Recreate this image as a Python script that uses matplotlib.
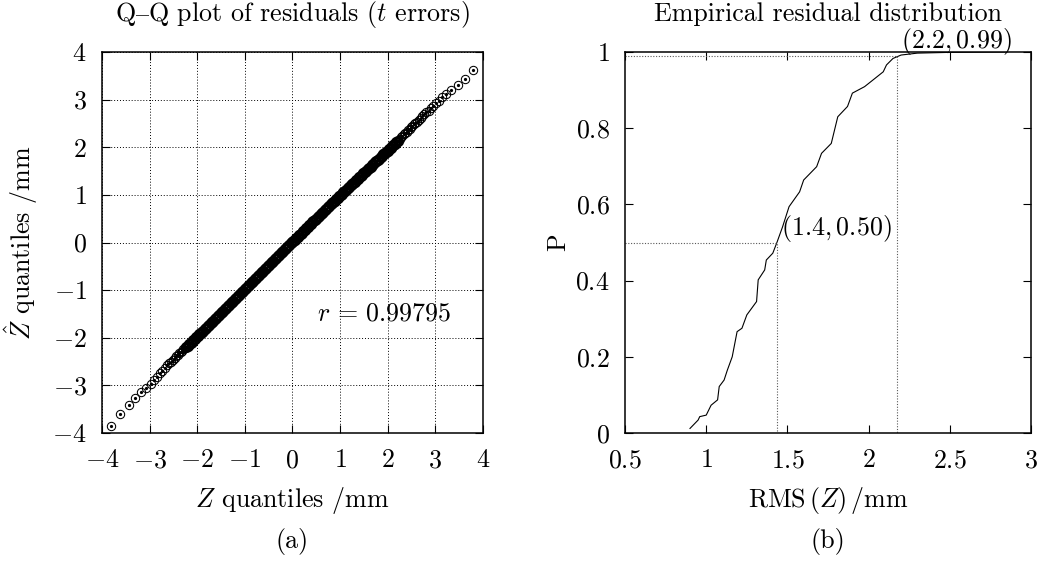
import matplotlib
matplotlib.use("Agg")
import matplotlib.pyplot as plt
from matplotlib.ticker import FuncFormatter

plt.rcParams['font.family'] = ['cmr10', 'DejaVu Serif']
plt.rcParams['mathtext.fontset'] = 'cm'
plt.rcParams['axes.formatter.use_mathtext'] = True
FS = 18.7

# Q-Q plot data: lower tail, dense middle, upper tail
z_low = [-3.81, -3.63, -3.44, -3.30, -3.18, -3.07, -2.98, -2.91, -2.84, -2.78,
         -2.73, -2.68, -2.63, -2.59, -2.55, -2.51, -2.47, -2.44, -2.41, -2.38,
         -2.35, -2.32, -2.29, -2.26]
zhat_low = [-3.85, -3.61, -3.41, -3.27, -3.14, -3.06, -2.97, -2.89, -2.82, -2.75,
            -2.69, -2.63, -2.58, -2.54, -2.50, -2.46, -2.42, -2.39, -2.36, -2.33,
            -2.30, -2.27, -2.24, -2.21]

z_mid = [-2.23, -2.20, -2.17, -2.14, -2.11, -2.08, -2.05, -2.02, -1.99, -1.96,
         -1.93, -1.90, -1.87, -1.84, -1.81, -1.78, -1.75, -1.72, -1.69, -1.66,
         -1.63, -1.60, -1.57, -1.54, -1.51, -1.48, -1.45, -1.42, -1.39, -1.36,
         -1.33, -1.30, -1.27, -1.24, -1.21, -1.18, -1.15, -1.12, -1.09, -1.06,
         -1.03, -1.00, -0.97, -0.94, -0.91, -0.88, -0.85, -0.82, -0.79, -0.76,
         -0.73, -0.70, -0.67, -0.64, -0.61, -0.58, -0.55, -0.52, -0.49, -0.46,
         -0.43, -0.40, -0.37, -0.34, -0.31, -0.28, -0.25, -0.22, -0.19, -0.16,
         -0.13, -0.10, -0.07, -0.04, -0.01, 0.02, 0.05, 0.08, 0.11, 0.14,
         0.17, 0.20, 0.23, 0.26, 0.29, 0.32, 0.35, 0.38, 0.41, 0.44,
         0.47, 0.50, 0.53, 0.56, 0.59, 0.62, 0.65, 0.68, 0.71, 0.74,
         0.77, 0.80, 0.83, 0.86, 0.89, 0.92, 0.95, 0.98, 1.01, 1.04,
         1.07, 1.10, 1.13, 1.16, 1.19, 1.22, 1.25, 1.28, 1.31, 1.34,
         1.37, 1.40, 1.43, 1.46, 1.49, 1.52, 1.55, 1.58, 1.61, 1.64,
         1.67, 1.70, 1.73, 1.76, 1.79, 1.82, 1.85, 1.88, 1.91, 1.94,
         1.97, 2.00, 2.03, 2.06, 2.09, 2.12, 2.15, 2.18, 2.21]
zhat_mid = [-2.20, -2.17, -2.14, -2.11, -2.08, -2.05, -2.02, -1.99, -1.96, -1.93,
            -1.90, -1.87, -1.85, -1.82, -1.79, -1.76, -1.73, -1.70, -1.67, -1.64,
            -1.61, -1.58, -1.55, -1.52, -1.49, -1.46, -1.43, -1.40, -1.37, -1.34,
            -1.31, -1.28, -1.25, -1.22, -1.19, -1.16, -1.13, -1.10, -1.07, -1.04,
            -1.01, -0.98, -0.95, -0.92, -0.89, -0.86, -0.83, -0.80, -0.77, -0.74,
            -0.71, -0.68, -0.65, -0.62, -0.59, -0.56, -0.53, -0.50, -0.47, -0.44,
            -0.41, -0.38, -0.35, -0.32, -0.29, -0.26, -0.23, -0.20, -0.17, -0.14,
            -0.11, -0.08, -0.05, -0.02, 0.01, 0.03, 0.06, 0.09, 0.12, 0.15,
            0.18, 0.21, 0.24, 0.27, 0.30, 0.33, 0.36, 0.39, 0.42, 0.45,
            0.48, 0.50, 0.53, 0.56, 0.59, 0.62, 0.65, 0.68, 0.71, 0.74,
            0.77, 0.80, 0.82, 0.85, 0.88, 0.91, 0.94, 0.97, 1.00, 1.02,
            1.05, 1.08, 1.11, 1.14, 1.17, 1.20, 1.22, 1.25, 1.28, 1.31,
            1.34, 1.37, 1.39, 1.42, 1.45, 1.48, 1.51, 1.54, 1.56, 1.59,
            1.62, 1.65, 1.68, 1.71, 1.73, 1.76, 1.79, 1.82, 1.85, 1.88,
            1.90, 1.93, 1.96, 1.99, 2.02, 2.05, 2.07, 2.10, 2.13]

z_high = [2.25, 2.28, 2.31, 2.34, 2.37, 2.40, 2.43, 2.46, 2.49, 2.52,
          2.55, 2.58, 2.61, 2.65, 2.69, 2.73, 2.77, 2.81, 2.86, 2.91,
          2.96, 3.02, 3.08, 3.15, 3.23, 3.34, 3.47, 3.63, 3.80]
zhat_high = [2.18, 2.21, 2.24, 2.27, 2.30, 2.33, 2.36, 2.39, 2.42, 2.45,
             2.48, 2.51, 2.54, 2.57, 2.61, 2.65, 2.69, 2.73, 2.77, 2.82,
             2.87, 2.92, 2.98, 3.05, 3.12, 3.20, 3.31, 3.44, 3.62]

r_value = 0.99795

# empirical distribution of RMS(Z)
rms = [0.90, 0.95, 0.96, 1.00, 1.03, 1.07, 1.08, 1.11, 1.13, 1.16,
       1.19, 1.22, 1.25, 1.31, 1.32, 1.36, 1.37, 1.41, 1.437, 1.47,
       1.51, 1.575, 1.60, 1.68, 1.71, 1.77, 1.79, 1.81, 1.87, 1.90,
       1.975, 2.04, 2.09, 2.11, 2.15, 2.20, 2.30, 2.50, 2.85]
prob = [0.012, 0.034, 0.043, 0.047, 0.073, 0.087, 0.122, 0.139, 0.165, 0.200,
        0.266, 0.275, 0.310, 0.345, 0.402, 0.428, 0.454, 0.472, 0.502, 0.541,
        0.594, 0.633, 0.664, 0.699, 0.734, 0.760, 0.795, 0.830, 0.857, 0.892,
        0.909, 0.931, 0.948, 0.966, 0.983, 0.992, 0.997, 0.999, 1.0]

median_pt = (1.434, 0.50)
p99_pt = (2.175, 0.99)

fmt = FuncFormatter(lambda v, pos: "$%g$" % v)

fig = plt.figure(figsize=(10.48, 5.62), dpi=100)
ax1 = fig.add_axes([0.0973, 0.2295, 0.3635, 0.678])
ax2 = fig.add_axes([0.5964, 0.2295, 0.3874, 0.678])

for ax in (ax1, ax2):
    ax.tick_params(direction='in', top=True, right=True, length=5.5,
                   width=0.8, labelsize=FS)
    ax.tick_params(axis='x', pad=11)
    ax.tick_params(axis='y', pad=11)
    for s in ax.spines.values():
        s.set_linewidth(1.1)
    ax.xaxis.set_major_formatter(fmt)
    ax.yaxis.set_major_formatter(fmt)

# (a) Q-Q plot
ring = dict(linestyle='none', marker='o', markerfacecolor='none',
            markeredgecolor='black')
dot = dict(linestyle='none', marker='o', markersize=1.3, color='black')
ax1.plot(z_low + z_high, zhat_low + zhat_high, markersize=6,
         markeredgewidth=0.75, **ring)
ax1.plot(z_mid, zhat_mid, markersize=6.5, markeredgewidth=1.6, **ring)
ax1.plot(z_low + z_mid + z_high, zhat_low + zhat_mid + zhat_high, **dot)
ax1.set_xlim(-4, 4)
ax1.set_ylim(-4, 4)
ax1.set_xticks(range(-4, 5))
ax1.set_yticks(range(-4, 5))
ax1.grid(True, color='black', linestyle=(0, (1, 2)), linewidth=0.7)
ax1.set_axisbelow(True)
ax1.text(0.52, -1.5, r"$r\,=\,%.5f$" % r_value, ha='left', va='center',
         fontsize=FS)
ax1.set_title(r"Q$\mathrm{–}$Q plot of residuals ($t$ errors)", fontsize=FS, pad=22)
ax1.set_xlabel(r"$Z$ quantiles /mm", fontsize=FS, labelpad=9)
ax1.set_ylabel(r"$\hat{Z}$ quantiles /mm", fontsize=FS, labelpad=9)

# (b) empirical distribution
ax2.plot(rms, prob, color='black', linewidth=0.8)
ax2.plot([0.5, median_pt[0], median_pt[0]], [median_pt[1], median_pt[1], 0],
         color='0.35', linestyle=(0, (1, 1.5)), linewidth=0.8)
ax2.plot([0.5, p99_pt[0], p99_pt[0]], [p99_pt[1], p99_pt[1], 0],
         color='0.35', linestyle=(0, (1, 1.5)), linewidth=0.8)
ax2.annotate(r"$(%.1f, %.2f)$" % median_pt, xy=median_pt, xytext=(3, -1),
             textcoords='offset points', ha='left', va='bottom', fontsize=FS)
ax2.annotate(r"$(%.1f, %.2f)$" % p99_pt, xy=p99_pt, xytext=(3, -1),
             textcoords='offset points', ha='left', va='bottom', fontsize=FS)
ax2.set_xlim(0.5, 3)
ax2.set_ylim(0, 1)
ax2.set_xticks([0.5, 1, 1.5, 2, 2.5, 3])
ax2.set_yticks([0, 0.2, 0.4, 0.6, 0.8, 1])
ax2.set_title("Empirical residual distribution", fontsize=FS, pad=22)
ax2.set_xlabel(r"RMS$\,(Z)\,$/mm", fontsize=FS, labelpad=9)
ax2.set_ylabel("P", fontsize=FS, labelpad=4)

fig.text(0.279, 0.037, "(a)", ha='center', va='center', fontsize=FS)
fig.text(0.790, 0.037, "(b)", ha='center', va='center', fontsize=FS)

fig.savefig("out.png", dpi=100)
